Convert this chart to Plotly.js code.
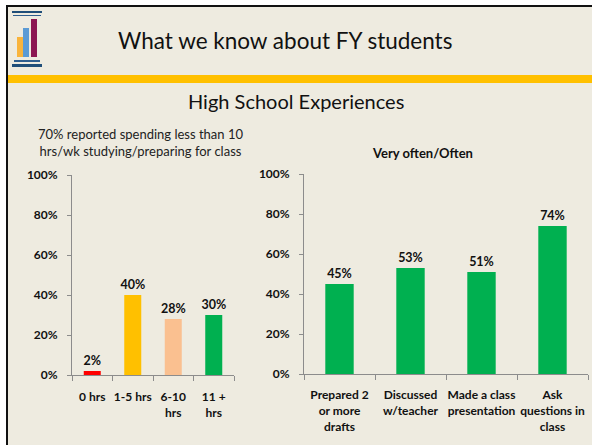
<!DOCTYPE html>
<html><head><meta charset="utf-8">
<script src="https://cdn.plot.ly/plotly-3.0.1.min.js"></script>
<style>html,body{margin:0;padding:0;background:#fff}#chart{width:592px;height:445px}</style>
</head><body><div id="chart"></div>
<script>
// ---- data ----
const hoursCategories = ["0 hrs", "1-5 hrs", "6-10<br>hrs", "11 +<br>hrs"];
const hoursValues = [2, 40, 28, 30];
const hoursColors = ["#FF0000", "#FFC000", "#FAC090", "#00B050"];

const activityCategories = ["Prepared 2<br>or more<br>drafts", "Discussed<br>w/teacher", "Made a class<br>presentation", "Ask<br>questions in<br>class"];
const activityValues = [45, 53, 51, 74];
const activityColor = "#00B050";

const slideTitle = "What we know about FY students";
const sectionTitle = "High School Experiences";
const leftNote = "70% reported spending less than 10<br>hrs/wk studying/preparing for class";
const rightTitle = "<b>Very often/Often</b>";

// ---- layout helpers (pixel -> paper) ----
const W = 592, H = 445;
const px = x => x / W;
const py = y => 1 - y / H;
const FONT = "Lato, 'Open Sans', sans-serif";
const BG = "#EEEBE0";

function pct(v){ return "<b>" + v + "%</b>"; }

const traces = [
  {type: "bar", x: hoursCategories, y: hoursValues, xaxis: "x", yaxis: "y",
   marker: {color: hoursColors}, width: 0.42,
   text: hoursValues.map(pct), textposition: "outside", cliponaxis: false, constraintext: "none",
   textfont: {family: FONT, size: 12.5, color: "#111"}, hoverinfo: "none"},
  {type: "bar", x: activityCategories, y: activityValues, xaxis: "x2", yaxis: "y2",
   marker: {color: activityColor}, width: 0.4,
   text: activityValues.map(pct), textposition: "outside", cliponaxis: false, constraintext: "none",
   textfont: {family: FONT, size: 12.5, color: "#111"}, hoverinfo: "none"}
];

const axisCommon = {
  showgrid: false, zeroline: false, showline: true, linecolor: "#8C8C8C", linewidth: 1,
  ticks: "outside", tickcolor: "#8C8C8C", fixedrange: true,
  tickfont: {family: FONT, size: 12, color: "#111", weight: "bold"}
};

const layout = {
  width: W, height: H,
  margin: {l: 0, r: 0, t: 0, b: 0},
  paper_bgcolor: BG, plot_bgcolor: "rgba(0,0,0,0)",
  showlegend: false,
  font: {family: FONT, color: "#111"},
  xaxis: Object.assign({}, axisCommon, {domain: [px(72), px(234)], anchor: "y",
    type: "category", tickson: "boundaries", ticklen: 5, tickangle: 0, ticklabelstandoff: 11}),
  yaxis: Object.assign({}, axisCommon, {domain: [py(375), py(175)], anchor: "x",
    range: [0, 100], dtick: 20, ticksuffix: "%", ticklen: 4, ticklabelstandoff: 7}),
  xaxis2: Object.assign({}, axisCommon, {domain: [px(304), px(588)], anchor: "y2",
    type: "category", tickson: "boundaries", ticklen: 5, tickangle: 0, ticklabelstandoff: 10}),
  yaxis2: Object.assign({}, axisCommon, {domain: [py(374), py(174)], anchor: "x2",
    range: [0, 100], dtick: 20, ticksuffix: "%", ticklen: 4, ticklabelstandoff: 7}),
  shapes: [
    {type: "rect", xref: "paper", yref: "paper", x0: 0, x1: 1, y0: py(0), y1: py(5), fillcolor: "#FFFFFF", line: {width: 0}, layer: "below"},
    {type: "rect", xref: "paper", yref: "paper", x0: 0, x1: px(6), y0: 0, y1: 1, fillcolor: "#FFFFFF", line: {width: 0}, layer: "below"},
    {type: "rect", xref: "paper", yref: "paper", x0: px(6), x1: 1, y0: py(7), y1: py(5), fillcolor: "#111", line: {width: 0}},
    {type: "rect", xref: "paper", yref: "paper", x0: px(6), x1: px(8), y0: 0, y1: py(5), fillcolor: "#111", line: {width: 0}},
    {type: "rect", xref: "paper", yref: "paper", x0: px(8), x1: 1, y0: py(83), y1: py(75), fillcolor: "#FFC000", line: {width: 0}},
    {type: "rect", xref: "paper", yref: "paper", x0: px(12), x1: px(42), y0: py(13), y1: py(11), fillcolor: "#1F4E79", line: {width: 0}},
    {type: "rect", xref: "paper", yref: "paper", x0: px(13), x1: px(41), y0: py(16), y1: py(15), fillcolor: "#2E5E8E", line: {width: 0}},
    {type: "rect", xref: "paper", yref: "paper", x0: px(17), x1: px(23), y0: py(57), y1: py(37), fillcolor: "#F9B43C", line: {width: 0}},
    {type: "rect", xref: "paper", yref: "paper", x0: px(23), x1: px(29), y0: py(57), y1: py(28), fillcolor: "#5B9BD5", line: {width: 0}},
    {type: "rect", xref: "paper", yref: "paper", x0: px(31), x1: px(37), y0: py(57), y1: py(19), fillcolor: "#8C1652", line: {width: 0}},
    {type: "rect", xref: "paper", yref: "paper", x0: px(14), x1: px(40), y0: py(62), y1: py(60), fillcolor: "#2E5E8E", line: {width: 0}},
    {type: "rect", xref: "paper", yref: "paper", x0: px(12), x1: px(42), y0: py(67), y1: py(64), fillcolor: "#1F4E79", line: {width: 0}}
  ],
  annotations: [
    {text: slideTitle, xref: "paper", yref: "paper", x: px(285), y: py(41), showarrow: false,
     xanchor: "center", yanchor: "middle", font: {family: FONT, size: 22.5, color: "#111"}},
    {text: sectionTitle, xref: "paper", yref: "paper", x: px(296), y: py(101), showarrow: false,
     xanchor: "center", yanchor: "middle", font: {family: FONT, size: 20, color: "#111"}},
    {text: leftNote, xref: "paper", yref: "paper", x: px(140), y: py(143), showarrow: false,
     xanchor: "center", yanchor: "middle", align: "center", font: {family: FONT, size: 13, color: "#222"}},
    {text: rightTitle, xref: "paper", yref: "paper", x: px(423), y: py(153), showarrow: false,
     xanchor: "center", yanchor: "middle", font: {family: FONT, size: 13, color: "#111"}}
  ]
};

Plotly.newPlot("chart", traces, layout, {displayModeBar: false, staticPlot: true});
</script></body></html>
